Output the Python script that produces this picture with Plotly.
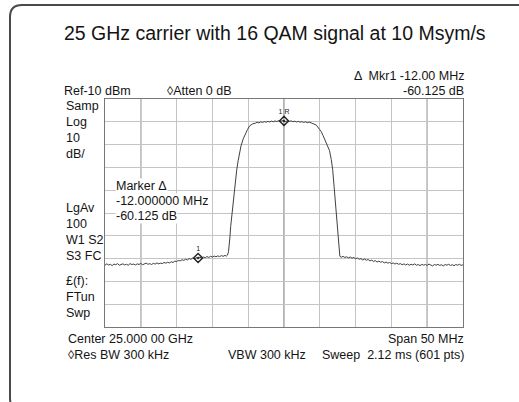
import plotly.graph_objects as go

# Spectrum analyzer trace, split into segments:
# frequency offset from center (MHz) and level (dBm)
left_floor_f = [
    -25.0, -24.75, -24.5, -24.25, -24.0, -23.75, -23.5, -23.25, -23.0, -22.75,
    -22.5, -22.25, -22.0, -21.75, -21.5, -21.25, -21.0, -20.75, -20.5, -20.25,
    -20.0, -19.75, -19.5, -19.25, -19.0, -18.75, -18.5, -18.25, -18.0, -17.75,
    -17.5, -17.25, -17.0, -16.75, -16.5, -16.25, -16.0, -15.75, -15.5, -15.25,
    -15.0, -14.75, -14.5, -14.25, -14.0, -13.75, -13.5, -13.25, -13.0, -12.75,
    -12.5, -12.25, -12.0, -11.75, -11.5, -11.25, -11.0, -10.75, -10.5, -10.25,
    -10.0, -9.75, -9.5, -9.25, -9.0, -8.75, -8.5, -8.25, -8.05,
]
left_floor_db = [
    -82.9, -82.3, -82.8, -82.5, -83.1, -82.4, -82.7, -82.2, -82.9, -82.6,
    -82.3, -82.8, -82.5, -82.9, -82.2, -82.6, -82.4, -82.8, -82.3, -82.6,
    -82.1, -82.7, -82.4, -82.0, -82.5, -82.2, -82.6, -82.1, -82.4, -81.9,
    -82.3, -82.0, -82.2, -81.7, -82.0, -81.6, -81.9, -81.4, -81.7, -81.1,
    -81.3, -80.8, -81.0, -80.5, -80.8, -80.3, -80.6, -80.0, -80.3, -79.8,
    -80.1, -79.6, -79.725, -79.4, -79.8, -79.3, -79.6, -79.1, -79.5, -79.0,
    -79.3, -78.9, -79.2, -78.8, -79.1, -78.7, -79.0, -78.6, -78.9,
]

rise_f = [-7.9, -7.75, -7.65, -7.55, -7.45, -7.3, -7.15, -7.0, -6.8, -6.6,
          -6.4, -6.2, -6.0, -5.7, -5.4, -5.1, -4.8, -4.4]
rise_db = [-78.5, -77.0, -74.5, -70.5, -66.0, -61.0, -57.0, -52.0, -46.0, -41.0,
           -37.0, -33.5, -30.5, -27.5, -25.2, -23.4, -21.8, -20.9]

plateau_f = [
    -4.0, -3.75, -3.5, -3.25, -3.0, -2.75, -2.5, -2.25, -2.0, -1.75, -1.5,
    -1.25, -1.0, -0.75, -0.5, -0.25, 0.0, 0.25, 0.5, 0.75, 1.0, 1.25, 1.5,
    1.75, 2.0, 2.25, 2.5, 2.75, 3.0, 3.25, 3.5, 3.75, 4.0,
]
plateau_db = [
    -20.6, -20.2, -20.5, -20.0, -20.3, -19.9, -20.2, -19.8, -20.1, -19.7, -20.0,
    -19.6, -19.9, -19.5, -19.8, -19.5, -19.6, -19.9, -19.5, -19.8, -19.6, -20.0,
    -19.7, -20.1, -19.8, -20.2, -19.9, -20.3, -20.0, -20.4, -20.1, -20.5, -20.7,
]

fall_f = [4.5, 4.96, 5.2, 5.45, 5.66, 6.0, 6.35, 6.6, 6.8, 7.0,
          7.15, 7.3, 7.45, 7.55, 7.65, 7.8]
fall_db = [-21.4, -23.3, -24.3, -26.0, -27.5, -30.2, -32.6, -36.5, -41.0, -48.5,
           -54.5, -60.5, -67.5, -72.5, -77.0, -79.0]

right_floor_f = [
    8.0, 8.25, 8.5, 8.75, 9.0, 9.25, 9.5, 9.75, 10.0, 10.25,
    10.5, 10.75, 11.0, 11.25, 11.5, 11.75, 12.0, 12.25, 12.5, 12.75,
    13.0, 13.25, 13.5, 13.75, 14.0, 14.25, 14.5, 14.75, 15.0, 15.25,
    15.5, 15.75, 16.0, 16.25, 16.5, 16.75, 17.0, 17.25, 17.5, 17.75,
    18.0, 18.25, 18.5, 18.75, 19.0, 19.25, 19.5, 19.75, 20.0, 20.25,
    20.5, 20.75, 21.0, 21.25, 21.5, 21.75, 22.0, 22.25, 22.5, 22.75,
    23.0, 23.25, 23.5, 23.75, 24.0, 24.25, 24.5, 24.75, 25.0,
]
right_floor_db = [
    -79.4, -79.0, -79.5, -79.2, -79.7, -79.3, -79.8, -79.5, -80.1, -79.7,
    -80.3, -80.0, -80.6, -80.2, -80.7, -80.4, -81.0, -80.7, -81.2, -80.9,
    -81.5, -81.1, -81.6, -81.3, -81.9, -81.5, -82.0, -81.7, -82.2, -81.9,
    -82.4, -82.0, -82.5, -82.2, -82.7, -82.3, -82.8, -82.4, -82.9, -82.5,
    -82.8, -82.3, -82.9, -82.6, -83.1, -82.5, -82.9, -82.6, -83.0, -82.4,
    -82.8, -83.2, -82.6, -82.9, -82.5, -83.0, -82.7, -83.2, -82.6, -82.9,
    -82.5, -83.0, -82.7, -83.1, -82.6, -82.9, -82.5, -83.0, -82.7,
]

freq_mhz = left_floor_f + rise_f + plateau_f + fall_f + right_floor_f
level_dbm = left_floor_db + rise_db + plateau_db + fall_db + right_floor_db

# Reference marker (1R) and delta marker (1)
ref_marker_freq = 0.0
ref_marker_level = -19.6
delta_freq = -12.0
delta_db = -60.125

ref_level = -10
db_per_div = 10
span_mhz = 50

title_text = "25 GHz carrier with 16 QAM signal at 10 Msym/s"
left_labels = [
    ("Samp", 106), ("Log", 122), ("10", 138), ("dB/", 154),
    ("LgAv", 208), ("100", 224), ("W1 S2", 240), ("S3 FC", 256),
    ("£(f):", 281), ("FTun", 297), ("Swp", 313),
]

W, H = 519, 402
L, R, T, B = 105, 463, 99, 327


def px(x):
    return (x - L) / (R - L)


def py(y):
    return (B - y) / (B - T)


FONT = "Liberation Sans, Arial, sans-serif"
TXT = "#141414"
SMALL = 12.5

fig = go.Figure()

# Darker major gridlines at -20, 0, +20 MHz
for fx in (-20, 0, 20):
    fig.add_shape(type="line", xref="x", yref="paper", x0=fx, x1=fx, y0=0, y1=1,
                  line=dict(color="#8a8a8a", width=1.3), layer="below")

fig.add_trace(go.Scatter(x=freq_mhz, y=level_dbm, mode="lines",
                         line=dict(color="#404040", width=1), hoverinfo="skip"))

marker_x = [ref_marker_freq, ref_marker_freq + delta_freq]
marker_y = [ref_marker_level, ref_marker_level + delta_db]
fig.add_trace(go.Scatter(x=marker_x, y=marker_y, mode="markers+text",
                         marker=dict(symbol="diamond-open-dot", size=7,
                                     color="#222", line=dict(width=1.4, color="#222")),
                         text=["1 R", "1"], textposition="top center",
                         textfont=dict(family=FONT, size=7, color="#222"),
                         hoverinfo="skip"))

ann = []


def label(text, x, y, anchor="left", size=SMALL, bg=None):
    d = dict(text=text, x=px(x), y=py(y), xref="paper", yref="paper",
             xanchor=anchor, yanchor="middle", showarrow=False,
             font=dict(family=FONT, size=size, color=TXT))
    if bg:
        d["bgcolor"] = bg
        d["borderpad"] = 0
    ann.append(d)


label(title_text, 274.5, 33, anchor="center", size=19.5)
label(f"\u0394  Mkr1 {delta_freq:.2f} MHz", 466, 76, anchor="right")
label(f"{delta_db:.3f} dB", 466, 91, anchor="right")
label(f"Ref{ref_level} dBm", 62, 91)
label("\u25CAAtten 0 dB", 165, 91)
for t, yy in left_labels:
    label(t, 64, yy)
label("Marker \u0394", 115, 186, bg="white")
label(f"{delta_freq:.6f} MHz", 115, 201, bg="white")
label(f"{delta_db:.3f} dB", 115, 216, bg="white")
label("Center 25.000 00 GHz", 66, 339)
label(f"Span {span_mhz} MHz", 466, 339, anchor="right")
label("\u25CARes BW 300 kHz", 66, 355)
label("VBW 300 kHz", 226, 355)
label("Sweep  2.12 ms (601 pts)", 466, 355, anchor="right")

# Rounded frame around the figure (open on the right and bottom)
r = 12
x0, y0, y1 = 10, 5, 410
frame = (f"M {px(540)} {py(y0)} L {px(x0 + r)} {py(y0)} "
         f"Q {px(x0)} {py(y0)} {px(x0)} {py(y0 + r)} "
         f"L {px(x0)} {py(y1 - r)} Q {px(x0)} {py(y1)} {px(x0 + r)} {py(y1)}")
shapes = [dict(type="path", xref="paper", yref="paper", path=frame,
               line=dict(color="#4a4a4a", width=2))]

fig.update_layout(
    width=W, height=H,
    margin=dict(l=L, r=W - R, t=T, b=H - B),
    paper_bgcolor="white", plot_bgcolor="white",
    showlegend=False,
    annotations=ann,
    shapes=list(fig.layout.shapes) + shapes,
    xaxis=dict(range=[-span_mhz / 2, span_mhz / 2], dtick=5, showgrid=True,
               gridcolor="#c4c4c4", gridwidth=1, zeroline=False,
               showticklabels=False, ticks="", showline=True, mirror=True,
               linecolor="#777", linewidth=1.3, fixedrange=True),
    yaxis=dict(range=[ref_level - 10 * db_per_div, ref_level], dtick=db_per_div,
               showgrid=True, gridcolor="#c4c4c4", gridwidth=1, zeroline=False,
               showticklabels=False, ticks="", showline=True, mirror=True,
               linecolor="#777", linewidth=1.3, fixedrange=True),
)

fig.write_html("out.html", config={"displayModeBar": False})
